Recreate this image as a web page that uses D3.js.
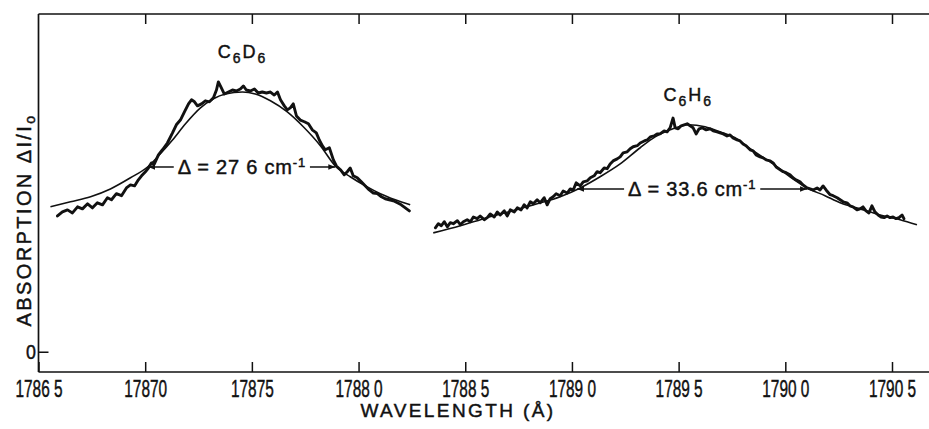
<!DOCTYPE html>
<html>
<head>
<meta charset="utf-8">
<script src="https://d3js.org/d3.v7.min.js"></script>
<style>
  body { margin: 0; background: #fff; }
  svg text { font-family: "Liberation Sans", Arial, sans-serif; fill: #111; stroke: #111; stroke-width: 0.45; }
</style>
</head>
<body>
<svg id="chart" width="929" height="429"></svg>
<script>
// ---- data (wavelength in Å, absorption in arbitrary units) ----
const xTickValues = [1786.5, 1787.0, 1787.5, 1788.0, 1788.5, 1789.0, 1789.5, 1790.0, 1790.5];
const xTickLabels = ["1786 5", "17870", "17875", "1788 0", "1788 5", "1789 0", "1789 5", "1790 0", "1790 5"];
const yTickValues = [0];
const yTickLabels = ["0"];

// C6D6 : fitted profile
const c6d6Fit = [
  [1786.556,42.9],[1786.650,44.4],[1786.744,45.9],[1786.837,48.2],[1786.931,51.5],[1787.011,54.7],
  [1787.071,58.6],[1787.128,62.7],[1787.189,67.5],[1787.259,72.2],[1787.320,74.9],[1787.376,76.3],
  [1787.456,76.9],[1787.516,76.3],[1787.587,74.3],[1787.666,71.0],[1787.741,66.6],[1787.821,61.0],
  [1787.891,55.0],[1787.961,51.8],[1788.032,49.1],[1788.102,46.8],[1788.172,45.0],[1788.242,43.5]
];
// C6D6 : recorded trace
const c6d6Trace = [
  [1786.589,40.2],[1786.612,41.4],[1786.636,42.0],[1786.659,41.1],[1786.683,42.9],[1786.706,42.3],
  [1786.730,43.8],[1786.753,42.6],[1786.776,44.1],[1786.800,43.5],[1786.823,45.6],[1786.842,45.0],
  [1786.865,46.8],[1786.889,46.2],[1786.912,48.5],[1786.931,49.4],[1786.950,49.1],[1786.968,50.9],
  [1786.983,52.1],[1787.001,53.3],[1787.015,54.4],[1787.029,55.9],[1787.043,55.6],[1787.062,58.3],
  [1787.081,59.8],[1787.104,61.8],[1787.128,64.8],[1787.146,67.2],[1787.165,68.6],[1787.184,71.0],
  [1787.203,73.4],[1787.217,74.6],[1787.231,74.0],[1787.245,72.8],[1787.264,73.4],[1787.282,74.3],
  [1787.301,74.0],[1787.320,75.2],[1787.334,77.5],[1787.343,79.9],[1787.357,78.1],[1787.371,76.3],
  [1787.390,76.9],[1787.409,77.5],[1787.427,77.2],[1787.446,77.8],[1787.460,78.7],[1787.474,77.5],
  [1787.493,77.2],[1787.512,77.8],[1787.530,76.6],[1787.549,76.9],[1787.568,76.6],[1787.587,76.9],
  [1787.605,76.0],[1787.620,76.9],[1787.634,74.6],[1787.652,72.8],[1787.666,71.6],[1787.680,72.2],
  [1787.694,73.4],[1787.709,69.8],[1787.727,68.6],[1787.746,68.1],[1787.765,67.5],[1787.783,65.7],
  [1787.802,64.8],[1787.816,62.7],[1787.830,61.0],[1787.844,59.8],[1787.863,60.4],[1787.882,56.8],
  [1787.896,55.0],[1787.915,53.9],[1787.933,52.4],[1787.947,53.3],[1787.961,54.4],[1787.975,52.1],
  [1787.994,51.5],[1788.013,50.3],[1788.032,49.1],[1788.050,47.9],[1788.069,47.0],[1788.088,46.8],
  [1788.107,45.9],[1788.125,45.3],[1788.144,45.0],[1788.163,44.7],[1788.182,44.1],[1788.200,43.5],
  [1788.219,42.6],[1788.238,41.7]
];

// C6H6 : fitted profile
const c6h6Fit = [
  [1788.350,35.2],[1788.477,37.3],[1788.603,39.7],[1788.720,41.7],[1788.837,43.8],[1788.945,45.9],
  [1789.039,48.5],[1789.132,51.8],[1789.226,55.6],[1789.320,60.4],[1789.390,63.6],[1789.460,65.7],
  [1789.545,67.2],[1789.624,66.6],[1789.694,65.1],[1789.774,63.0],[1789.835,60.1],[1789.943,55.6],
  [1790.022,51.8],[1790.102,48.5],[1790.186,46.2],[1790.257,44.1],[1790.350,42.3],[1790.444,40.5],
  [1790.538,39.1],[1790.617,37.6]
];
// C6H6 : recorded trace
const c6h6Trace = [
  [1788.360,36.7],[1788.374,37.9],[1788.388,37.3],[1788.402,38.5],[1788.416,37.0],[1788.430,38.2],
  [1788.444,37.9],[1788.463,38.8],[1788.477,37.6],[1788.491,38.5],[1788.509,39.1],[1788.524,38.5],
  [1788.538,39.9],[1788.556,39.4],[1788.570,40.2],[1788.589,39.1],[1788.603,39.7],[1788.617,40.8],
  [1788.636,39.9],[1788.650,41.4],[1788.664,40.5],[1788.683,41.7],[1788.697,40.2],[1788.711,42.0],
  [1788.730,41.4],[1788.744,42.6],[1788.762,42.0],[1788.776,43.5],[1788.790,42.6],[1788.805,44.4],
  [1788.819,43.8],[1788.837,45.0],[1788.851,44.1],[1788.870,45.6],[1788.884,43.5],[1788.898,45.3],
  [1788.912,45.9],[1788.926,46.8],[1788.945,46.2],[1788.959,47.6],[1788.978,47.0],[1788.992,48.2],
  [1789.006,47.9],[1789.020,50.0],[1789.039,49.1],[1789.053,50.3],[1789.072,50.6],[1789.086,51.5],
  [1789.104,52.1],[1789.118,53.3],[1789.132,53.0],[1789.151,54.4],[1789.165,54.2],[1789.179,55.6],
  [1789.193,56.5],[1789.212,57.1],[1789.226,57.7],[1789.240,58.9],[1789.259,59.2],[1789.273,60.1],
  [1789.287,60.7],[1789.306,61.0],[1789.320,61.8],[1789.339,62.4],[1789.353,62.7],[1789.367,63.6],
  [1789.385,63.9],[1789.399,64.5],[1789.413,64.5],[1789.432,65.4],[1789.446,65.1],[1789.460,66.3],
  [1789.474,69.2],[1789.484,66.3],[1789.498,66.0],[1789.512,66.9],[1789.526,67.2],[1789.540,67.5],
  [1789.554,66.9],[1789.568,66.3],[1789.582,64.5],[1789.596,66.0],[1789.610,66.3],[1789.629,65.7],
  [1789.648,66.0],[1789.662,65.4],[1789.680,65.1],[1789.694,64.8],[1789.709,64.5],[1789.727,63.9],
  [1789.741,64.2],[1789.755,63.3],[1789.774,62.7],[1789.788,62.4],[1789.802,61.5],[1789.816,61.0],
  [1789.835,59.8],[1789.849,59.5],[1789.863,58.3],[1789.882,57.7],[1789.896,57.4],[1789.910,56.8],
  [1789.929,56.5],[1789.943,55.9],[1789.957,54.7],[1789.976,53.9],[1789.990,53.3],[1790.004,53.0],
  [1790.022,52.4],[1790.036,51.5],[1790.050,50.9],[1790.069,50.3],[1790.083,49.4],[1790.102,48.5],
  [1790.116,48.2],[1790.130,47.9],[1790.149,48.5],[1790.163,47.9],[1790.177,49.1],[1790.191,47.9],
  [1790.210,46.5],[1790.224,46.2],[1790.243,45.6],[1790.257,45.0],[1790.271,44.4],[1790.289,44.1],
  [1790.303,43.2],[1790.317,42.9],[1790.336,42.0],[1790.350,42.3],[1790.364,42.9],[1790.378,41.7],
  [1790.392,41.1],[1790.406,43.2],[1790.420,41.4],[1790.435,40.5],[1790.449,39.9],[1790.463,39.7],
  [1790.477,40.2],[1790.491,39.7],[1790.505,39.9],[1790.519,39.4],[1790.533,39.7],[1790.547,40.5],
  [1790.556,39.4]
];

// line widths (FWHM) marked on each band: [left edge, right edge, level]
const widthD = [1787.015, 1787.891, 54.7];
const widthH = [1789.025, 1790.102, 48.2];
const peakNames = [["C", "6", "D", "6"], ["C", "6", "H", "6"]];
const widthLabels = [["\u0394 = 27 6 cm", "-1"], ["\u0394 = 33.6 cm", "-1"]];

// ---- drawing ----
const svg = d3.select("#chart");
const W = 929;
const x = d3.scaleLinear().domain([1786.5, 1790.5]).range([38.5, 892]);
const y = d3.scaleLinear().domain([-6, 100]).range([372, 14]);
const xRight = W;

// arrow marker
svg.append("defs").append("marker")
  .attr("id", "arr").attr("viewBox", "0 0 10 10")
  .attr("refX", 10).attr("refY", 5)
  .attr("markerWidth", 7).attr("markerHeight", 7)
  .attr("markerUnits", "userSpaceOnUse")
  .attr("orient", "auto")
  .append("path").attr("d", "M0,1 L10,5 L0,9 Z").attr("fill", "#111");

// frame lines
const frame = svg.append("g").attr("stroke", "#111").attr("stroke-width", 1.7);
frame.append("line").attr("x1", x(1786.5)).attr("x2", x(1786.5)).attr("y1", y(100)).attr("y2", y(-6));
frame.append("line").attr("x1", x(1786.5)).attr("x2", xRight).attr("y1", y(-6)).attr("y2", y(-6));
frame.append("line").attr("x1", x(1786.5)).attr("x2", xRight).attr("y1", y(100)).attr("y2", y(100));

// bottom axis
const gx = svg.append("g").attr("transform", `translate(0,${y(-6)})`)
  .call(d3.axisBottom(x).tickValues(xTickValues).tickSizeInner(-10).tickSizeOuter(0)
    .tickPadding(9).tickFormat((d, i) => xTickLabels[i]));
gx.select(".domain").remove();
gx.selectAll(".tick line").attr("stroke", "#111").attr("stroke-width", 1.5);
gx.selectAll(".tick text").attr("font-size", 23).attr("font-family", null)
  .attr("transform", "scale(0.67,1)");

// top ticks
const gt = svg.append("g").attr("transform", `translate(0,${y(100)})`)
  .call(d3.axisTop(x).tickValues(xTickValues.slice(1)).tickSizeInner(-10).tickSizeOuter(0).tickFormat(""));
gt.select(".domain").remove();
gt.selectAll(".tick line").attr("stroke", "#111").attr("stroke-width", 1.5);

// left axis
const gy = svg.append("g").attr("transform", `translate(${x(1786.5)},0)`)
  .call(d3.axisLeft(y).tickValues(yTickValues).tickSizeInner(-10).tickSizeOuter(0)
    .tickPadding(3).tickFormat((d, i) => yTickLabels[i]));
gy.select(".domain").remove();
gy.selectAll(".tick line").attr("stroke", "#111").attr("stroke-width", 1.5);
gy.selectAll(".tick text").attr("font-size", 21).attr("font-family", null)
  .attr("transform", "scale(0.85,1)");

// axis titles
svg.append("text")
  .attr("x", 458).attr("y", 417)
  .attr("text-anchor", "middle").attr("font-size", 19).attr("letter-spacing", 2.4)
  .text("WAVELENGTH (\u00c5)");

const yt = svg.append("text")
  .attr("transform", "translate(31,220) rotate(-90)")
  .attr("text-anchor", "middle").attr("font-size", 20).attr("letter-spacing", 2.4);
yt.append("tspan").text("ABSORPTION  \u0394I/I");
yt.append("tspan").attr("font-size", 14).attr("dy", 4).text("o");

// curves
const fitLine = d3.line().x(d => x(d[0])).y(d => y(d[1])).curve(d3.curveMonotoneX);
const traceLine = d3.line().x(d => x(d[0])).y(d => y(d[1]));

[c6d6Fit, c6h6Fit].forEach(s => {
  svg.append("path").attr("d", fitLine(s))
    .attr("fill", "none").attr("stroke", "#111").attr("stroke-width", 1.6);
});
[c6d6Trace, c6h6Trace].forEach(s => {
  svg.append("path").attr("d", traceLine(s))
    .attr("fill", "none").attr("stroke", "#111").attr("stroke-width", 2.9)
    .attr("stroke-linejoin", "round").attr("stroke-linecap", "round");
});

// peak names
const peaks = [
  { fit: c6d6Fit, trace: c6d6Trace, off: 24 },
  { fit: c6h6Fit, trace: c6h6Trace, off: 17 }
];
peaks.forEach((p, i) => {
  const top = p.fit.reduce((a, b) => b[1] > a[1] ? b : a);
  const tmax = d3.max(p.trace, d => d[1]);
  const t = svg.append("text")
    .attr("x", x(top[0])).attr("y", y(tmax) - p.off)
    .attr("text-anchor", "middle").attr("font-size", 18).attr("letter-spacing", 2);
  const parts = peakNames[i];
  t.append("tspan").text(parts[0]);
  t.append("tspan").attr("font-size", 14).attr("dy", 5).text(parts[1]);
  t.append("tspan").attr("dy", -5).text(parts[2]);
  t.append("tspan").attr("font-size", 14).attr("dy", 5).text(parts[3]);
});

// width markers
[widthD, widthH].forEach((w, i) => {
  const x0 = x(w[0]), x1 = x(w[1]), yy = y(w[2]);
  const cx = (x0 + x1) / 2;
  const t = svg.append("text")
    .attr("x", cx).attr("y", yy).attr("dy", "0.36em")
    .attr("text-anchor", "middle").attr("font-size", 20).attr("letter-spacing", 0.8);
  t.append("tspan").text(widthLabels[i][0]);
  t.append("tspan").attr("font-size", 13).attr("dy", -7).text(widthLabels[i][1]);
  const bb = t.node().getBBox();
  svg.append("line").attr("x1", bb.x - 4).attr("x2", x0).attr("y1", yy).attr("y2", yy)
    .attr("stroke", "#111").attr("stroke-width", 1.5).attr("marker-end", "url(#arr)");
  svg.append("line").attr("x1", bb.x + bb.width + 4).attr("x2", x1).attr("y1", yy).attr("y2", yy)
    .attr("stroke", "#111").attr("stroke-width", 1.5).attr("marker-end", "url(#arr)");
});
</script>
</body>
</html>
